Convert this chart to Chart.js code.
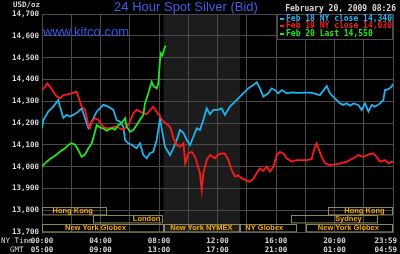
<!DOCTYPE html>
<html>
<head>
<meta charset="utf-8">
<script src="https://cdn.jsdelivr.net/npm/chart.js@4.4.1/dist/chart.umd.min.js"></script>
<style>
  html, body { margin: 0; padding: 0; background: #000; }
  #wrap { width: 400px; height: 254px; position: relative; }
</style>
</head>
<body>
<div id="wrap"><canvas id="silver"></canvas></div>
<script>
// hours since 00:00 NY time, price in USD/oz
const feb18Hours = [0, 0.1, 0.43, 0.77, 1.11, 1.23, 1.46, 1.69, 1.9, 2.14, 2.48, 2.71, 2.83, 3.05, 3.17, 3.4, 3.74, 4.19,
  4.53, 4.88, 5.1, 5.33, 5.56, 5.68, 5.9, 6.13, 6.47, 6.7, 6.93, 7.16, 7.38, 7.61, 7.84, 8.07, 8.18, 8.41, 8.75, 8.98,
  9.21, 9.44, 9.67, 9.9, 10.12, 10.35, 10.58, 10.8, 11.03, 11.26, 11.49, 11.71, 12.05, 12.28, 12.51, 12.85, 13.2, 13.54,
  13.76, 14.1, 14.45, 14.68, 14.9, 15.13, 15.47, 15.7, 15.93, 16.16, 16.39, 16.73, 17.1, 17.5, 17.98, 18.32, 18.66, 19.0,
  19.35, 19.47, 19.69, 19.92, 20.15, 20.38, 20.6, 20.83, 21.06, 21.29, 21.63, 21.86, 22.09, 22.32, 22.55, 22.77, 23.11,
  23.34, 23.45, 23.68, 23.91, 24];
const feb18Prices = [14.176, 14.214, 14.252, 14.275, 14.305, 14.275, 14.223, 14.237, 14.23, 14.237, 14.252, 14.267, 14.245,
  14.2, 14.177, 14.206, 14.252, 14.283, 14.275, 14.26, 14.214, 14.206, 14.183, 14.122, 14.107, 14.1, 14.084, 14.107,
  14.053, 14.038, 14.061, 14.068, 14.122, 14.222, 14.176, 14.091, 14.053, 14.084, 14.122, 14.168, 14.155, 14.122, 14.099,
  14.137, 14.176, 14.168, 14.214, 14.267, 14.24, 14.26, 14.26, 14.267, 14.237, 14.275, 14.298, 14.321, 14.336, 14.359,
  14.374, 14.387, 14.359, 14.321, 14.336, 14.359, 14.35, 14.336, 14.351, 14.336, 14.34, 14.338, 14.339, 14.339, 14.335,
  14.328, 14.359, 14.37, 14.336, 14.32, 14.305, 14.29, 14.283, 14.29, 14.28, 14.29, 14.283, 14.26, 14.29, 14.252, 14.283,
  14.275, 14.29, 14.305, 14.351, 14.355, 14.367, 14.38];

const feb19Hours = [0, 0.23, 0.34, 0.55, 0.77, 1.0, 1.23, 1.46, 1.69, 2.03, 2.37, 2.6, 2.71, 2.94, 3.05, 3.17, 3.28, 3.4,
  3.62, 3.85, 4.19, 4.42, 4.65, 5.0, 5.33, 5.56, 5.79, 6.02, 6.24, 6.47, 6.7, 6.93, 7.16, 7.5, 7.61, 7.84, 8.07, 8.3, 8.53,
  8.75, 8.87, 8.98, 9.21, 9.44, 9.67, 9.79, 10.01, 10.24, 10.47, 10.8, 10.92, 11.03, 11.15, 11.26, 11.49, 11.83, 12.05,
  12.28, 12.51, 12.74, 12.97, 13.2, 13.43, 13.65, 13.88, 14.22, 14.45, 14.68, 14.9, 15.13, 15.36, 15.59, 15.82, 16.05,
  16.27, 16.5, 16.73, 17.07, 17.4, 17.6, 18.1, 18.44, 18.66, 18.78, 18.9, 19.12, 19.35, 19.69, 20.0, 20.3, 20.83, 21.29,
  21.63, 21.97, 22.3, 22.65, 22.88, 23.11, 23.45, 23.68, 23.91, 24];
const feb19Prices = [14.351, 14.367, 14.382, 14.367, 14.344, 14.321, 14.313, 14.328, 14.33, 14.336, 14.344, 14.298, 14.275,
  14.26, 14.229, 14.191, 14.176, 14.206, 14.222, 14.214, 14.183, 14.176, 14.176, 14.183, 14.176, 14.168, 14.183, 14.206,
  14.245, 14.26, 14.252, 14.245, 14.24, 14.267, 14.275, 14.252, 14.229, 14.206, 14.195, 14.183, 14.16, 14.13, 14.099,
  14.091, 14.107, 14.015, 14.061, 14.068, 14.045, 13.969, 13.893, 13.97, 14.0, 14.03, 14.053, 14.038, 14.055, 14.061,
  14.06, 14.03, 13.984, 13.954, 13.96, 13.946, 13.939, 13.931, 13.945, 13.969, 13.992, 13.98, 14.0, 13.977, 14.0, 14.053,
  14.068, 14.06, 14.038, 14.023, 14.03, 14.03, 14.03, 14.035, 14.091, 14.107, 14.085, 14.045, 14.015, 14.007, 14.01,
  14.012, 14.023, 14.038, 14.053, 14.045, 14.055, 14.061, 14.045, 14.023, 14.03, 14.015, 14.023, 14.02];

const feb20Hours = [0, 0.2, 0.55, 0.89, 1.23, 1.57, 1.8, 2.03, 2.26, 2.48, 2.71, 2.94, 3.17, 3.4, 3.5, 3.74, 3.97, 4.19,
  4.42, 4.77, 4.99, 5.22, 5.45, 5.68, 5.79, 6.02, 6.24, 6.47, 6.7, 6.93, 7.04, 7.27, 7.5, 7.61, 7.84, 7.95, 8.07, 8.14,
  8.24, 8.34, 8.45];
const feb20Prices = [14.0, 14.015, 14.035, 14.05, 14.068, 14.084, 14.099, 14.107, 14.1, 14.076, 14.045, 14.055, 14.084,
  14.107, 14.13, 14.19, 14.18, 14.175, 14.165, 14.176, 14.17, 14.19, 14.2, 14.222, 14.183, 14.16, 14.168, 14.191, 14.215,
  14.237, 14.29, 14.336, 14.389, 14.37, 14.359, 14.38, 14.49, 14.52, 14.51, 14.535, 14.555];

const legendLines = ['Feb 18 NY close 14,340', 'Feb 19 NY close 14,030', 'Feb 20 Last 14,550'];
const seriesColors = ['#1eb4ee', '#ff1a1a', '#22e622'];

const xTickHours = [0, 4, 8, 12, 16, 20, 24];
const nyTimeLabels = ['00:00', '04:00', '08:00', '12:00', '16:00', '20:00', '23:59'];
const gmtLabels = ['05:00', '09:00', '13:00', '17:00', '21:00', '01:00', '04:59'];

// trading sessions: [name, row, start hour, end hour, label centre hour]
const sessions = [
  ['Hong Kong', 0, 0, 4.44, 2.1],
  ['Hong Kong', 0, 19.55, 24, 22.05],
  ['London', 1, 3.51, 8.27, 7.15],
  ['Sydney', 1, 17.03, 22.97, 20.95],
  ['New York Globex', 2, 0, 8.32, 3.66],
  ['New York NYMEX', 2, 8.32, 13.54, 10.9],
  ['NY Globex', 2, 13.54, 17.41, 15.2],
  ['New York Globex', 2, 18.05, 24, 20.95],
];
const nymexHours = [8.32, 13.54];

const gridColor = '#4a4a4a';
const toPoints = (hours, prices) => hours.map((h, i) => ({ x: h, y: prices[i] }));

const decor = {
  id: 'decor',
  beforeDraw(chart) {
    const { ctx, chartArea, scales } = chart;
    ctx.save();
    ctx.fillStyle = '#000';
    ctx.fillRect(0, 0, chart.width, chart.height);
    const x0 = scales.x.getPixelForValue(nymexHours[0]);
    const x1 = scales.x.getPixelForValue(nymexHours[1]);
    ctx.fillStyle = '#1c1c1c';
    ctx.fillRect(x0, chartArea.top, x1 - x0, chartArea.bottom - chartArea.top);
    ctx.restore();
  },
  afterDraw(chart) {
    const { ctx, chartArea, scales } = chart;
    const x = scales.x;
    ctx.save();

    // session bars along the bottom
    const rowH = 8.4;
    ctx.lineWidth = 1;
    ctx.textBaseline = 'middle';
    ctx.textAlign = 'center';
    ctx.font = 'bold 7.5px "Liberation Sans"';
    sessions.forEach(([name, row, start, end, mid]) => {
      const top = chartArea.bottom - (3 - row) * rowH;
      const left = Math.round(x.getPixelForValue(start)) + 0.5;
      const right = Math.round(x.getPixelForValue(end)) - 0.5;
      ctx.strokeStyle = '#8e865a';
      ctx.strokeRect(left, Math.round(top) + 0.5, right - left, rowH - 1);
      ctx.fillStyle = '#f5ab00';
      ctx.fillText(name, x.getPixelForValue(mid), top + rowH / 2);
    });

    // legend box
    const boxRight = chartArea.right;
    const boxLeft = boxRight - 116;
    ctx.fillStyle = '#000';
    ctx.fillRect(boxLeft, chartArea.top, boxRight - boxLeft, 25);
    ctx.strokeStyle = gridColor;
    ctx.strokeRect(boxLeft + 0.5, chartArea.top + 0.5, boxRight - boxLeft - 1, 25);
    ctx.font = 'bold 8px "DejaVu Sans Mono"';
    ctx.textAlign = 'left';
    legendLines.forEach((txt, i) => {
      const y = chartArea.top + 4.5 + i * 7.8;
      ctx.fillStyle = seriesColors[i];
      ctx.fillRect(boxLeft + 3, Math.round(y) - 1, 4, 2);
      ctx.fillText(txt, boxLeft + 9, y);
    });

    // header texts
    ctx.fillStyle = '#3f5fe6';
    ctx.font = '13px "Liberation Sans"';
    ctx.textAlign = 'center';
    ctx.textBaseline = 'alphabetic';
    ctx.fillText('24 Hour Spot Silver (Bid)', 186, 11);
    ctx.textAlign = 'left';
    ctx.fillStyle = '#3558ee';
    ctx.fillText('www.kitco.com', 43, 36);

    ctx.textBaseline = 'middle';
    ctx.fillStyle = '#d8d8d8';
    ctx.font = 'bold 8px "DejaVu Sans Mono"';
    ctx.textAlign = 'right';
    ctx.fillText('February 20, 2009 08:26', 396, 8.5);
    ctx.font = 'bold 7.5px "DejaVu Sans Mono"';
    ctx.fillText('USD/oz', 40, 5);

    // time axis, two rows
    ctx.textAlign = 'left';
    ctx.font = '7.5px "DejaVu Sans Mono"';
    ctx.fillText('NY Time', 1, 241.5);
    ctx.fillText('GMT', 10, 250);
    ctx.font = 'bold 7.5px "DejaVu Sans Mono"';
    ctx.textAlign = 'center';
    xTickHours.forEach((h, i) => {
      const w = ctx.measureText(nyTimeLabels[i]).width;
      const px = Math.min(x.getPixelForValue(h), 397 - w / 2);
      ctx.fillText(nyTimeLabels[i], px, 241.5);
      ctx.fillText(gmtLabels[i], px, 250);
    });
    ctx.restore();
  },
};

const ctxEl = document.getElementById('silver');
// eslint-disable-next-line no-new
new Chart(ctxEl, {
  type: 'line',
  data: {
    datasets: [
      { label: 'Feb 20', data: toPoints(feb20Hours, feb20Prices), borderColor: seriesColors[2], order: 0 },
      { label: 'Feb 19', data: toPoints(feb19Hours, feb19Prices), borderColor: seriesColors[1], order: 1 },
      { label: 'Feb 18', data: toPoints(feb18Hours, feb18Prices), borderColor: seriesColors[0], order: 2 },
    ],
  },
  options: {
    responsive: true,
    maintainAspectRatio: false,
    devicePixelRatio: 1,
    animation: false,
    events: [],
    layout: { padding: { top: 14, right: 7, left: 0, bottom: 0 } },
    elements: {
      line: { borderWidth: 1.8, tension: 0 },
      point: { radius: 0 },
    },
    plugins: { legend: { display: false }, tooltip: { enabled: false } },
    scales: {
      x: {
        type: 'linear',
        min: 0,
        max: 24,
        ticks: { stepSize: 2, display: false },
        grid: { color: gridColor, drawTicks: false },
        border: { color: gridColor },
        afterFit(scale) { scale.height = 22; },
      },
      y: {
        min: 13.7,
        max: 14.7,
        ticks: {
          stepSize: 0.1,
          padding: 3,
          color: '#d8d8d8',
          font: { family: 'DejaVu Sans Mono', size: 7.5, weight: 'bold' },
          callback: (v) => v.toFixed(3).replace('.', ','),
        },
        grid: { color: gridColor, drawTicks: false },
        border: { color: gridColor },
        afterFit(scale) { scale.width = 42; },
      },
    },
  },
  plugins: [decor],
});
</script>
</body>
</html>
